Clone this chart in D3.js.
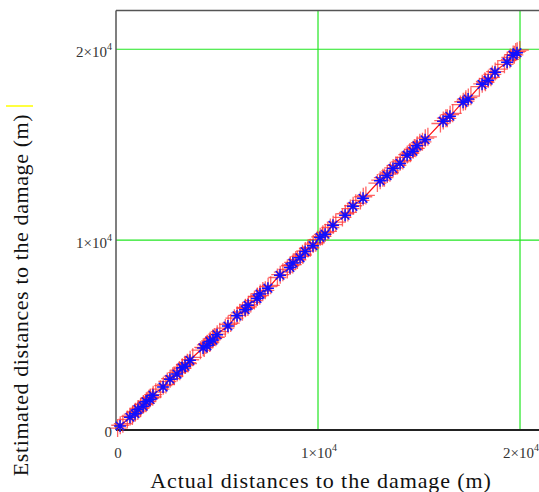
<!DOCTYPE html>
<html>
<head>
<meta charset="utf-8">
<script src="https://cdn.jsdelivr.net/npm/d3@7"></script>
<style>
  body { margin: 0; background: #fff; }
  svg { display: block; }
  text { font-family: "Liberation Serif", "Times New Roman", serif; }
</style>
</head>
<body>
<svg id="chart" width="539" height="492"></svg>
<script>
// --- Data ---
const blueActual = [200, 690, 940, 1090, 1340, 1490, 1680, 1830, 2330, 2670, 3020, 3270, 3420, 3660,
  4310, 4500, 4650, 4800, 5000, 5540, 5990, 6390, 6540, 6980, 7130, 7520, 8120, 8610, 8760, 9110,
  9360, 9750, 10100, 10350, 10740, 11340, 11730, 12230, 13070, 13420, 13710, 14060, 14410, 14700,
  14900, 15300, 16190, 16530, 17180, 17430, 18120, 18420, 18760, 19360, 19650, 19850];
const blueEstimated = [260, 720, 900, 1130, 1300, 1530, 1650, 1870, 2300, 2710, 2980, 3310, 3390, 3700,
  4350, 4460, 4690, 4760, 5040, 5500, 6030, 6350, 6580, 6940, 7170, 7480, 8160, 8570, 8800, 9070,
  9400, 9710, 10140, 10310, 10780, 11300, 11770, 12190, 13110, 13380, 13750, 14020, 14450, 14660,
  14940, 15260, 16230, 16490, 17220, 17390, 18160, 18380, 18800, 19320, 19690, 19820];

const redActual = [80, 210, 340, 560, 700, 830, 810, 950, 1080, 960, 1100, 1230, 1210, 1350, 1480,
  1360, 1500, 1630, 1550, 1690, 1820, 1700, 1840, 1970, 2200, 2340, 2470, 2540, 2680, 2810,
  2890, 3030, 3160, 3140, 3280, 3410, 3290, 3430, 3560, 3530, 3670, 3800, 4180, 4320, 4450,
  4370, 4510, 4640, 4520, 4660, 4790, 4670, 4810, 4940, 4870, 5010, 5140, 5410, 5550, 5680,
  5860, 6000, 6130, 6260, 6400, 6530, 6410, 6550, 6680, 6850, 6990, 7120, 7000, 7140, 7270,
  7390, 7530, 7660, 7990, 8130, 8260, 8480, 8620, 8750, 8630, 8770, 8900, 8980, 9120, 9250,
  9230, 9370, 9500, 9620, 9760, 9890, 9970, 10110, 10240, 10220, 10360, 10490, 10610, 10750, 10880,
  11210, 11350, 11480, 11600, 11740, 11870, 12100, 12240, 12370, 12940, 13080, 13210, 13290, 13430, 13560,
  13580, 13720, 13850, 13930, 14070, 14200, 14280, 14420, 14550, 14570, 14710, 14840, 14770, 14910, 15040,
  15170, 15310, 15440, 16060, 16200, 16330, 16400, 16540, 16670, 17050, 17190, 17320, 17300, 17440, 17570,
  17990, 18130, 18260, 18290, 18430, 18560, 18630, 18770, 18900, 19230, 19370, 19500, 19520, 19660, 19790,
  19720, 19860, 19990];
const redEstimated = [150, 300, 380, 600, 760, 880, 780, 960, 1050, 1010, 1150, 1280, 1190, 1380, 1450,
  1410, 1560, 1690, 1540, 1720, 1790, 1750, 1900, 2030, 2190, 2370, 2440, 2590, 2740, 2870,
  2870, 3060, 3130, 3190, 3340, 3470, 3280, 3460, 3530, 3580, 3730, 3860, 4230, 4380, 4510,
  4350, 4540, 4610, 4570, 4720, 4850, 4650, 4840, 4910, 4920, 5070, 5200, 5390, 5580, 5650,
  5910, 6060, 6190, 6240, 6430, 6500, 6460, 6610, 6740, 6830, 7020, 7090, 7050, 7200, 7330,
  7370, 7560, 7630, 8040, 8190, 8320, 8460, 8650, 8720, 8680, 8830, 8960, 8960, 9150, 9220,
  9280, 9430, 9560, 9600, 9790, 9860, 10020, 10170, 10300, 10200, 10390, 10460, 10660, 10810, 10940,
  11190, 11380, 11450, 11650, 11800, 11930, 12080, 12270, 12340, 12990, 13140, 13270, 13270, 13460, 13530,
  13630, 13780, 13910, 13910, 14100, 14170, 14330, 14480, 14610, 14550, 14740, 14810, 14820, 14970, 15100,
  15150, 15340, 15410, 16110, 16260, 16390, 16380, 16570, 16640, 17100, 17250, 17380, 17280, 17470, 17540,
  18040, 18190, 18320, 18270, 18460, 18530, 18680, 18830, 18960, 19210, 19400, 19470, 19570, 19720, 19850,
  19710, 19890, 19960];

const gridValues = [10000, 20000];
const yTicks = [0, 10000, 20000];
const xTicks = [0, 10000, 20000];

// --- Layout ---
const svg = d3.select("#chart");
const plot = { left: 116, right: 539, top: 10.5, bottom: 430 };

const x = d3.scaleLinear().domain([0, 20940]).range([plot.left, plot.right]);
const y = d3.scaleLinear().domain([50, 22030]).range([plot.bottom, plot.top]);

// grid lines
svg.append("g").selectAll("line")
  .data(gridValues)
  .join("line")
  .attr("x1", d => x(d)).attr("x2", d => x(d))
  .attr("y1", plot.top).attr("y2", plot.bottom)
  .attr("stroke", "#22e622").attr("stroke-width", 1.2);

svg.append("g").selectAll("line")
  .data(gridValues)
  .join("line")
  .attr("x1", plot.left).attr("x2", plot.right)
  .attr("y1", d => y(d)).attr("y2", d => y(d))
  .attr("stroke", "#22e622").attr("stroke-width", 1.2);

// frame
svg.append("line")
  .attr("x1", plot.left).attr("x2", plot.right)
  .attr("y1", plot.top).attr("y2", plot.top)
  .attr("stroke", "#555").attr("stroke-width", 1.5);
svg.append("line")
  .attr("x1", plot.left).attr("x2", plot.left)
  .attr("y1", plot.top).attr("y2", plot.bottom)
  .attr("stroke", "#555").attr("stroke-width", 1.5);
svg.append("line")
  .attr("x1", plot.left).attr("x2", plot.right)
  .attr("y1", plot.bottom).attr("y2", plot.bottom)
  .attr("stroke", "#222").attr("stroke-width", 2);

// --- Series ---
const redPts = redActual.map((a, i) => ({ a, e: redEstimated[i] }))
  .sort((p, q) => p.a - q.a);
const bluePts = blueActual.map((a, i) => ({ a, e: blueEstimated[i] }));

svg.append("path")
  .datum(redPts)
  .attr("fill", "none")
  .attr("stroke", "#ff1010")
  .attr("stroke-width", 1.2)
  .attr("d", d3.line().x(d => x(d.a)).y(d => y(d.e)));

const plus = 9;
svg.append("g").selectAll("path")
  .data(redPts)
  .join("path")
  .attr("d", d => {
    const px = x(d.a), py = y(d.e);
    return `M${px - plus},${py}H${px + plus}M${px},${py - plus}V${py + plus}`;
  })
  .attr("stroke", "#ff3030")
  .attr("stroke-opacity", 0.75)
  .attr("stroke-width", 1.3)
  .attr("fill", "none");

const r = 6, rd = 4.3;
svg.append("g").selectAll("path")
  .data(bluePts)
  .join("path")
  .attr("d", d => {
    const px = x(d.a), py = y(d.e);
    return `M${px - r},${py}H${px + r}M${px},${py - r}V${py + r}` +
      `M${px - rd},${py - rd}L${px + rd},${py + rd}M${px - rd},${py + rd}L${px + rd},${py - rd}`;
  })
  .attr("stroke", "#1010ff")
  .attr("stroke-width", 1.5)
  .attr("fill", "none");

// --- Tick labels ---
function tickLabel(sel, v) {
  if (v === 0) { sel.text("0"); return; }
  sel.append("tspan").text(`${v / 10000}×10`);
  sel.append("tspan").attr("dy", -7).attr("font-size", 10).text("4");
}

svg.append("g").selectAll("text")
  .data(yTicks)
  .join("text")
  .attr("x", 112)
  .attr("y", d => y(d) + (d === 0 ? 6 : 8))
  .attr("text-anchor", "end")
  .attr("font-size", 15)
  .attr("fill", "#333")
  .each(function (d) { tickLabel(d3.select(this), d); });

svg.append("g").selectAll("text")
  .data(xTicks)
  .join("text")
  .attr("x", d => d === 0 ? 118 : x(d) + 1)
  .attr("y", 458)
  .attr("text-anchor", "middle")
  .attr("font-size", 15)
  .attr("fill", "#333")
  .each(function (d) { tickLabel(d3.select(this), d); });

// --- Axis titles ---
svg.append("text")
  .attr("x", 321)
  .attr("y", 488)
  .attr("text-anchor", "middle")
  .attr("font-size", 22)
  .attr("letter-spacing", 0.9)
  .attr("fill", "#111")
  .text("Actual distances to the damage (m)");

svg.append("text")
  .attr("transform", "translate(28,295) rotate(-90)")
  .attr("text-anchor", "middle")
  .attr("font-size", 22)
  .attr("letter-spacing", 0.6)
  .attr("fill", "#111")
  .text("Estimated distances to the damage (m)");

// small yellow mark above the y title
svg.append("line")
  .attr("x1", 6).attr("x2", 33)
  .attr("y1", 106).attr("y2", 106)
  .attr("stroke", "#ffff00").attr("stroke-width", 1.5);
</script>
</body>
</html>
